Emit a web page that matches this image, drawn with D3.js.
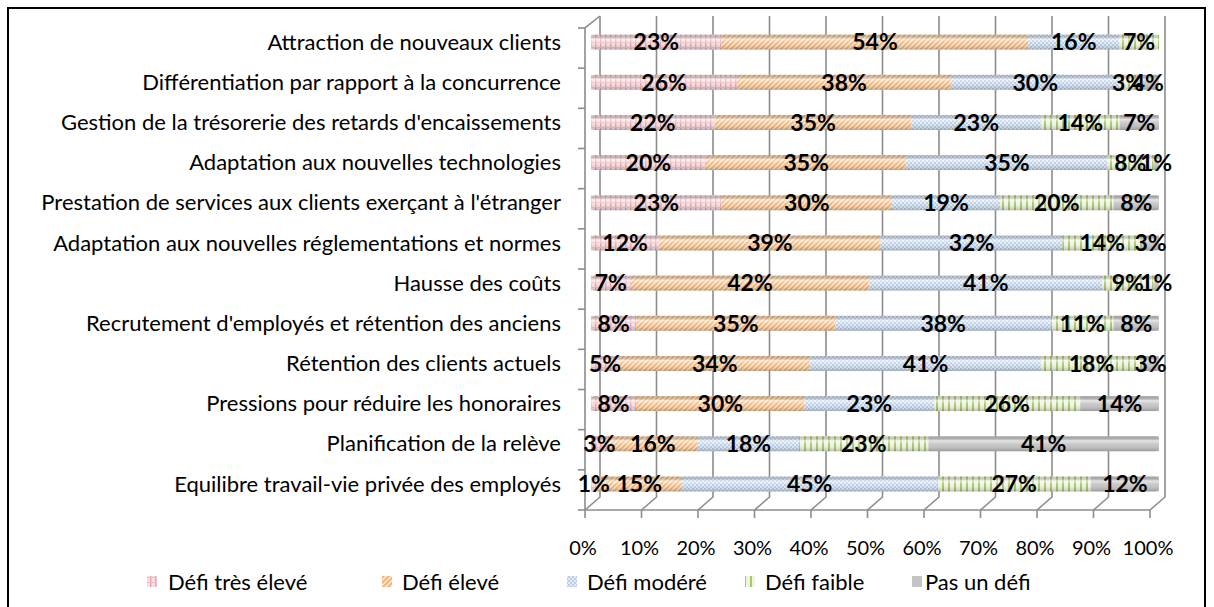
<!DOCTYPE html>
<html>
<head>
<meta charset="utf-8">
<script src="https://cdn.jsdelivr.net/npm/d3@7"></script>
<style>
  body { margin: 0; background: #fff; }
  text { font-family: Lato, "Open Sans", sans-serif; }
</style>
</head>
<body>
<script>
// chart data
var categories = [
  "Attraction de nouveaux clients",
  "Différentiation par rapport à la concurrence",
  "Gestion de la trésorerie des retards d'encaissements",
  "Adaptation aux nouvelles technologies",
  "Prestation de services aux clients exerçant à l'étranger",
  "Adaptation aux nouvelles réglementations et normes",
  "Hausse des coûts",
  "Recrutement d'employés et rétention des anciens",
  "Rétention des clients actuels",
  "Pressions pour réduire les honoraires",
  "Planification de la relève",
  "Equilibre travail-vie privée des employés"
];
var seriesNames = ["Défi très élevé", "Défi élevé", "Défi modéré", "Défi faible", "Pas un défi"];
var tresEleve = [23, 26, 22, 20, 23, 12, 7, 8, 5, 8, 3, 1];
var eleve     = [54, 38, 35, 35, 30, 39, 42, 35, 34, 30, 16, 15];
var modere    = [16, 30, 23, 35, 19, 32, 41, 38, 41, 23, 18, 45];
var faible    = [7, 3, 14, 8, 20, 14, 9, 11, 18, 26, 23, 27];
var pasDefi   = [0, 4, 7, 1, 8, 3, 1, 8, 3, 14, 41, 12];
var xTicks = [0, 10, 20, 30, 40, 50, 60, 70, 80, 90, 100];

var W = 1214, H = 607;
var svg = d3.select("body").append("svg")
    .attr("width", W)
    .attr("height", H);

var defs = svg.append("defs");

// patterns for each series
function pat(id, w, h, bg) {
  var p = defs.append("pattern").attr("id", id)
    .attr("patternUnits", "userSpaceOnUse")
    .attr("width", w).attr("height", h);
  p.append("rect").attr("width", w).attr("height", h).attr("fill", bg);
  return p;
}
var p0 = pat("p0", 5, 5, "#F7DDE0");
p0.append("rect").attr("x", 0).attr("y", 0).attr("width", 1.4).attr("height", 5).attr("fill", "#E3A6AE");
p0.append("rect").attr("x", 0).attr("y", 2).attr("width", 5).attr("height", 1).attr("fill", "#EDC2C7");
var p1 = pat("p1", 5, 5, "#FCE6D0");
p1.append("path").attr("d", "M-1,6 L6,-1 M-1,1 L1,-1 M4,6 L6,4")
  .attr("stroke", "#F4B26E").attr("stroke-width", 1.8);
var p2 = pat("p2", 4, 4, "#E2EBF6");
p2.append("rect").attr("x", 0).attr("y", 0).attr("width", 2).attr("height", 2).attr("fill", "#B8CCE6");
p2.append("rect").attr("x", 2).attr("y", 2).attr("width", 2).attr("height", 2).attr("fill", "#B8CCE6");
var p3 = pat("p3", 6, 6, "#EEF4E0");
p3.append("rect").attr("x", 0).attr("y", 0).attr("width", 2).attr("height", 6).attr("fill", "#A8C66C");
var p4 = pat("p4", 4, 4, "#C4C4C4");

// cylinder shading
var grad = defs.append("linearGradient").attr("id", "shade")
  .attr("x1", 0).attr("y1", 0).attr("x2", 0).attr("y2", 1);
grad.append("stop").attr("offset", "0%").attr("stop-color", "#000").attr("stop-opacity", 0.12);
grad.append("stop").attr("offset", "30%").attr("stop-color", "#fff").attr("stop-opacity", 0.55);
grad.append("stop").attr("offset", "55%").attr("stop-color", "#fff").attr("stop-opacity", 0.05);
grad.append("stop").attr("offset", "100%").attr("stop-color", "#000").attr("stop-opacity", 0.22);

// outer border
svg.append("rect")
  .attr("x", 8).attr("y", 8).attr("width", 1197).attr("height", 620)
  .attr("fill", "none").attr("stroke", "#000").attr("stroke-width", 2);

// scales
var depth = 15, rise = 13;
var xFront = d3.scaleLinear().domain([0, 100]).range([585, 1150]);
var xBar = d3.scaleLinear().domain([0, 1]).range([591, 1159]);
var y = d3.scaleBand().domain(categories).range([28, 510]);
var floorY = 510;

// back wall grid lines
var grid = svg.append("g").attr("stroke", "#8c8c8c").attr("stroke-width", 1.6).attr("fill", "none");
xTicks.forEach(function(t) {
  var x0 = xFront(t);
  grid.append("path")
    .attr("d", "M" + x0 + "," + floorY + " L" + (x0 + depth) + "," + (floorY - rise) +
               " L" + (x0 + depth) + "," + (28 - rise + 1));
  grid.append("line")
    .attr("x1", x0).attr("x2", x0).attr("y1", floorY).attr("y2", floorY + 8);
});
// floor front edge and left axis
grid.append("line").attr("x1", xFront(0)).attr("x2", xFront(100)).attr("y1", floorY).attr("y2", floorY);
grid.append("path").attr("d", "M" + xFront(0) + "," + floorY + " L" + xFront(0) + ",28 L" + (xFront(0) + depth) + "," + (28 - rise + 1));
categories.forEach(function(c) {
  grid.append("line").attr("x1", xFront(0) - 7).attr("x2", xFront(0))
    .attr("y1", y(c)).attr("y2", y(c));
});
grid.append("line").attr("x1", xFront(0) - 7).attr("x2", xFront(0)).attr("y1", floorY).attr("y2", floorY);

// stacked data, normalised to 100%
var rows = categories.map(function(c, i) {
  var vals = [tresEleve[i], eleve[i], modere[i], faible[i], pasDefi[i]];
  var tot = d3.sum(vals), acc = 0;
  return vals.map(function(v, k) {
    var s = { cat: c, k: k, v: v, x0: acc / tot, x1: (acc + v) / tot };
    acc += v;
    return s;
  });
});

var barH = 15, barOff = -6;
var bars = svg.append("g");
rows.forEach(function(r) {
  r.forEach(function(s) {
    if (s.v <= 0) return;
    var yy = y(s.cat) + y.bandwidth() / 2 + barOff - barH / 2;
    bars.append("rect")
      .attr("x", xBar(s.x0)).attr("y", yy)
      .attr("width", xBar(s.x1) - xBar(s.x0)).attr("height", barH)
      .attr("fill", "url(#p" + s.k + ")");
  });
  var first = r[0], yy = y(first.cat) + y.bandwidth() / 2 + barOff - barH / 2;
  bars.append("rect")
    .attr("x", xBar(0)).attr("y", yy)
    .attr("width", xBar(1) - xBar(0)).attr("height", barH)
    .attr("rx", 4)
    .attr("fill", "url(#shade)");
});

// value labels
var labels = svg.append("g")
  .attr("font-size", 23).attr("font-weight", "bold").attr("fill", "#000")
  .attr("text-anchor", "middle");
rows.forEach(function(r) {
  r.forEach(function(s) {
    if (s.v <= 0) return;
    labels.append("text")
      .attr("x", xBar((s.x0 + s.x1) / 2))
      .attr("y", y(s.cat) + y.bandwidth() / 2 + barOff)
      .attr("dy", "0.36em")
      .text(s.v + "%");
  });
});

// category labels
svg.append("g").attr("font-size", 22).attr("text-anchor", "end").attr("fill", "#000")
  .selectAll("text").data(categories).join("text")
  .attr("x", 561)
  .attr("y", function(d) { return y(d) + y.bandwidth() / 2 + barOff; })
  .attr("dy", "0.35em")
  .text(function(d) { return d; });

// x tick labels
svg.append("g").attr("font-size", 20).attr("text-anchor", "middle").attr("fill", "#000")
  .selectAll("text").data(xTicks).join("text")
  .attr("x", function(d) { return xFront(d) - 2; })
  .attr("y", 548)
  .attr("dy", "0.35em")
  .text(function(d) { return d + "%"; });

// legend
var legX = [147, 382, 567, 745, 912];
var legTx = [168, 402, 587, 765, 925];
var leg = svg.append("g");
seriesNames.forEach(function(n, i) {
  leg.append("rect").attr("x", legX[i]).attr("y", 576).attr("width", 10).attr("height", 11)
    .attr("fill", "url(#p" + i + ")");
  leg.append("text").attr("x", legTx[i]).attr("y", 582).attr("dy", "0.35em")
    .attr("font-size", 22).text(n);
});
</script>
</body>
</html>
